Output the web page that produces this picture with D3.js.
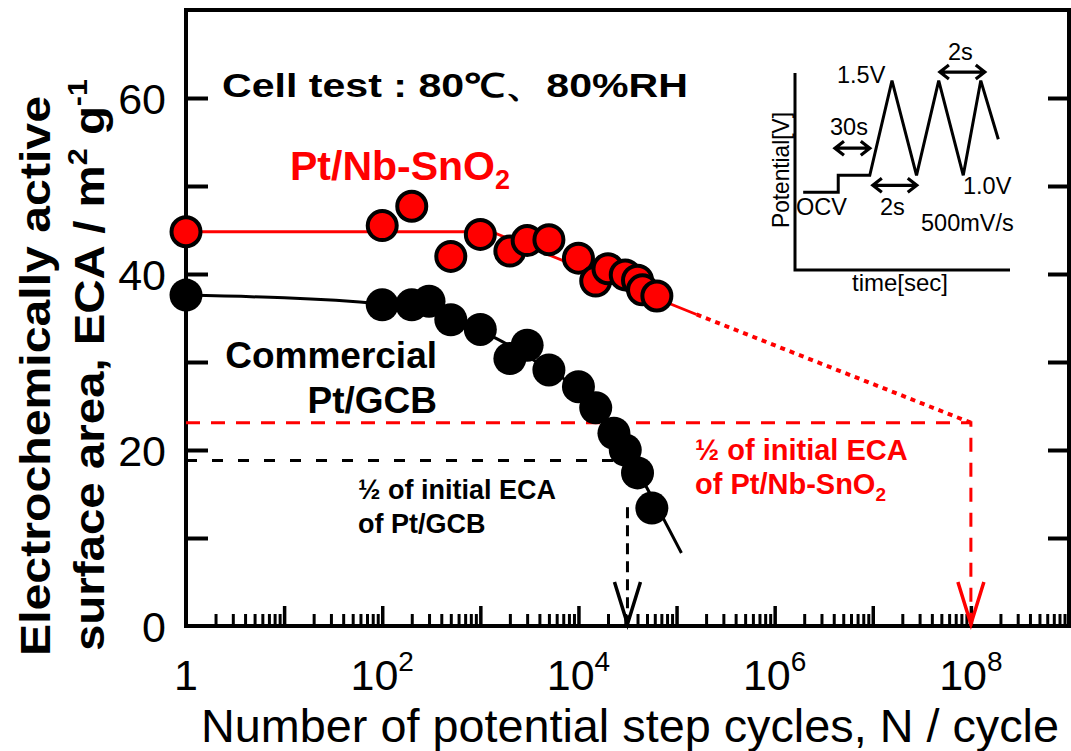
<!DOCTYPE html>
<html>
<head>
<meta charset="utf-8">
<script src="https://cdn.jsdelivr.net/npm/d3@7"></script>
<style>
  body { margin: 0; background: #fff; }
  svg { display: block; }
  text { font-family: "Liberation Sans", Arial, sans-serif; }
</style>
</head>
<body>
<div id="chart"></div>
<script>
// Pt/Nb-SnO2 measured points
var nbCycles = [1, 100, 200, 500, 1000, 2000, 3000, 5000, 10000, 15000, 20000, 30000, 40000, 45000, 63000];
var nbECA = [44.8, 45.5, 47.7, 42.0, 44.5, 42.6, 43.8, 43.9, 41.8, 39.2, 40.6, 39.9, 39.3, 38.2, 37.5];

// commercial Pt/GCB measured points
var gcbCycles = [1, 100, 200, 300, 500, 1000, 2000, 3000, 5000, 10000, 15000, 23000, 30000, 40000, 56000];
var gcbECA = [37.6, 36.5, 36.5, 36.9, 34.8, 33.7, 30.4, 31.9, 29.1, 27.2, 24.8, 21.9, 20.0, 17.4, 13.4];

// fitted trend lines
var nbFitCycles = [1, 1300, 160000];
var nbFitECA = [44.8, 44.8, 35.4];
var nbExtCycles = [160000, 1e8];
var nbExtECA = [35.4, 23.1];
var gcbFitCycles = [1, 100, 500, 1500, 4000, 10000, 20000, 40000, 63000, 112000];
var gcbFitECA = [37.6, 36.6, 35.0, 32.6, 29.8, 26.8, 22.8, 17.6, 13.6, 8.3];

// half of initial ECA markers
var halfNb = {cycles: 1e8, eca: 23.1};
var halfGcb = {cycles: 31600, eca: 18.8, from: 13.5};

// axis ticks
var yLabelTicks = [0, 20, 40, 60];
var yTicks = [10, 20, 30, 40, 50, 60];
var xLabelExps = [0, 2, 4, 6, 8];

// inset waveform (schematic time units, volts)
var waveT = [0, 1.5, 1.5, 2.85, 3.8, 4.85, 5.8, 6.85, 7.6, 8.35];
var waveV = [0.91, 0.91, 1.0, 1.0, 1.5, 1.0, 1.5, 1.0, 1.5, 1.19];

var W = 1071, H = 751;
var red = "#ff0000";

var svg = d3.select("#chart").append("svg")
    .attr("width", W)
    .attr("height", H);

var x = d3.scaleLog().domain([1, 1e9]).range([186, 1069]);
var y = d3.scaleLinear().domain([0, 70]).range([626, 10]);

//minor and major x ticks, pointing up into the plot
var xMinor = [], xMajor = [];
for (var d = 0; d < 9; d++) {
  for (var k = 2; k <= 9; k++) xMinor.push(k * Math.pow(10, d));
  xMajor.push(Math.pow(10, d + 1));
}

svg.append("g")
    .attr("transform", "translate(0," + y(0) + ")")
    .call(d3.axisBottom(x).tickValues(xMinor).tickSize(-12).tickFormat(""))
    .call(function (g) { g.select(".domain").remove(); g.selectAll("line").attr("stroke-width", 3); });

svg.append("g")
    .attr("transform", "translate(0," + y(0) + ")")
    .call(d3.axisBottom(x).tickValues(xMajor).tickSize(-20).tickFormat(""))
    .call(function (g) { g.select(".domain").remove(); g.selectAll("line").attr("stroke-width", 3.5); });

// y ticks on both sides
svg.append("g")
    .attr("transform", "translate(" + x(1) + ",0)")
    .call(d3.axisLeft(y).tickValues(yTicks).tickSize(-22).tickFormat(""))
    .call(function (g) { g.select(".domain").remove(); g.selectAll("line").attr("stroke-width", 4); });

svg.append("g")
    .attr("transform", "translate(" + x(1e9) + ",0)")
    .call(d3.axisRight(y).tickValues(yTicks).tickSize(-21).tickFormat(""))
    .call(function (g) { g.select(".domain").remove(); g.selectAll("line").attr("stroke-width", 4); });

// y tick labels
svg.append("g")
    .attr("transform", "translate(" + x(1) + ",0)")
    .call(d3.axisLeft(y).tickValues(yLabelTicks).tickSize(0).tickPadding(20))
    .call(function (g) {
      g.select(".domain").remove();
      g.selectAll("text")
        .attr("font-family", "'Liberation Sans', Arial, sans-serif")
        .attr("font-size", 43)
        .attr("fill", "#000")
        .attr("dy", "0.36em");
    });

// x tick labels 1, 10^2 ...
var xl = svg.append("g").selectAll("text")
    .data(xLabelExps)
    .enter()
    .append("text")
    .attr("x", function (e) { return x(Math.pow(10, e)); })
    .attr("y", 690)
    .attr("text-anchor", "middle")
    .attr("font-size", 43);
xl.each(function (e) {
  var t = d3.select(this);
  if (e === 0) { t.text("1"); return; }
  t.append("tspan").text("10");
  t.append("tspan").attr("dy", -19).attr("font-size", 28).text(e);
});

// frame
svg.append("rect")
    .attr("x", x(1)).attr("y", y(70))
    .attr("width", x(1e9) - x(1)).attr("height", y(0) - y(70))
    .attr("fill", "none").attr("stroke", "#000").attr("stroke-width", 4);

// axis titles
svg.append("text")
    .attr("x", 630).attr("y", 742)
    .attr("text-anchor", "middle")
    .attr("font-size", 46)
    .attr("textLength", 858).attr("lengthAdjust", "spacingAndGlyphs")
    .text("Number of potential step cycles, N / cycle");

svg.append("text")
    .attr("transform", "translate(50,376) rotate(-90)")
    .attr("text-anchor", "middle")
    .attr("font-size", 42).attr("font-weight", "bold")
    .attr("textLength", 560).attr("lengthAdjust", "spacingAndGlyphs")
    .text("Electrochemically active");

var yt2 = svg.append("text")
    .attr("transform", "translate(104,365) rotate(-90)")
    .attr("text-anchor", "middle")
    .attr("font-size", 42).attr("font-weight", "bold")
    .attr("textLength", 572).attr("lengthAdjust", "spacingAndGlyphs");
yt2.append("tspan").text("surface area, ECA / m");
yt2.append("tspan").attr("dy", -17).attr("font-size", 27).text("2");
yt2.append("tspan").attr("dy", 17).text(" g");
yt2.append("tspan").attr("dy", -17).attr("font-size", 27).text("-1");

// half ECA guide lines
svg.append("path")
    .attr("d", d3.line()([[x(1), y(halfNb.eca)], [x(halfNb.cycles), y(halfNb.eca)], [x(halfNb.cycles), y(0)]]))
    .attr("fill", "none").attr("stroke", red).attr("stroke-width", 3)
    .attr("stroke-dasharray", "14,11");

svg.append("path")
    .attr("d", d3.line()([[x(1), y(halfGcb.eca)], [x(halfGcb.cycles), y(halfGcb.eca)]]))
    .attr("fill", "none").attr("stroke", "#000").attr("stroke-width", 3)
    .attr("stroke-dasharray", "11,15");

svg.append("path")
    .attr("d", d3.line()([[x(halfGcb.cycles), y(halfGcb.from)], [x(halfGcb.cycles), y(0)]]))
    .attr("fill", "none").attr("stroke", "#000").attr("stroke-width", 3)
    .attr("stroke-dasharray", "11,7");

// open V arrowheads on the x axis
function vHead(cx, color) {
  svg.append("path")
      .attr("d", d3.line()([[cx - 13, y(0) - 44], [cx, y(0) - 2], [cx + 13, y(0) - 44]]))
      .attr("fill", "none").attr("stroke", color).attr("stroke-width", 3.5);
}
vHead(x(halfGcb.cycles), "#000");
vHead(x(halfNb.cycles), red);

// fit lines
var lineGen = d3.line()
    .x(function (p) { return x(p[0]); })
    .y(function (p) { return y(p[1]); });

svg.append("path")
    .attr("d", lineGen(d3.zip(nbFitCycles, nbFitECA)))
    .attr("fill", "none").attr("stroke", red).attr("stroke-width", 2.8);

svg.append("path")
    .attr("d", lineGen(d3.zip(nbExtCycles, nbExtECA)))
    .attr("fill", "none").attr("stroke", red).attr("stroke-width", 4)
    .attr("stroke-dasharray", "5,5");

svg.append("path")
    .attr("d", lineGen.curve(d3.curveMonotoneX)(d3.zip(gcbFitCycles, gcbFitECA)))
    .attr("fill", "none").attr("stroke", "#000").attr("stroke-width", 3);

// data points
svg.append("g").selectAll("circle")
    .data(d3.zip(gcbCycles, gcbECA))
    .enter().append("circle")
    .attr("cx", function (p) { return x(p[0]); })
    .attr("cy", function (p) { return y(p[1]); })
    .attr("r", 16.5)
    .attr("fill", "#000");

svg.append("g").selectAll("circle")
    .data(d3.zip(nbCycles, nbECA))
    .enter().append("circle")
    .attr("cx", function (p) { return x(p[0]); })
    .attr("cy", function (p) { return y(p[1]); })
    .attr("r", 14.5)
    .attr("fill", red)
    .attr("stroke", "#000").attr("stroke-width", 4);

// annotations
svg.append("text")
    .attr("x", 222).attr("y", 97)
    .attr("font-family", "'Noto Sans CJK JP', 'Noto Sans', sans-serif")
    .attr("font-size", 33).attr("font-weight", "bold")
    .attr("textLength", 466).attr("lengthAdjust", "spacingAndGlyphs")
    .text("Cell test : 80℃、80%RH");

var nbLabel = svg.append("text")
    .attr("x", 290).attr("y", 180)
    .attr("font-size", 41).attr("font-weight", "bold").attr("fill", red);
nbLabel.append("tspan").text("Pt/Nb-SnO");
nbLabel.append("tspan").attr("dy", 9).attr("font-size", 27).text("2");

svg.append("text")
    .attr("x", 437).attr("y", 368)
    .attr("text-anchor", "end")
    .attr("font-size", 37).attr("font-weight", "bold")
    .text("Commercial");
svg.append("text")
    .attr("x", 437).attr("y", 413)
    .attr("text-anchor", "end")
    .attr("font-size", 37).attr("font-weight", "bold")
    .text("Pt/GCB");

svg.append("text")
    .attr("x", 358).attr("y", 499)
    .attr("font-size", 27).attr("font-weight", "bold")
    .text("½ of initial ECA");
svg.append("text")
    .attr("x", 358).attr("y", 533)
    .attr("font-size", 27).attr("font-weight", "bold")
    .text("of Pt/GCB");

svg.append("text")
    .attr("x", 695).attr("y", 460)
    .attr("font-size", 29).attr("font-weight", "bold").attr("fill", red)
    .text("½ of initial ECA");
var nbHalf = svg.append("text")
    .attr("x", 695).attr("y", 494)
    .attr("font-size", 29).attr("font-weight", "bold").attr("fill", red);
nbHalf.append("tspan").text("of Pt/Nb-SnO");
nbHalf.append("tspan").attr("dy", 7).attr("font-size", 19).text("2");

// inset: potential step waveform
var ix = d3.scaleLinear().domain([-0.35, 8.85]).range([795, 1010]);
var iy = d3.scaleLinear().domain([0.5, 1.54]).range([270, 73]);
var inset = svg.append("g");

inset.append("path")
    .attr("d", d3.line()([[ix(-0.35), iy(1.54)], [ix(-0.35), iy(0.5)], [ix(8.85), iy(0.5)]]))
    .attr("fill", "none").attr("stroke", "#000").attr("stroke-width", 3);

inset.append("path")
    .attr("d", d3.line().x(function (p) { return ix(p[0]); }).y(function (p) { return iy(p[1]); })(d3.zip(waveT, waveV)))
    .attr("fill", "none").attr("stroke", "#000").attr("stroke-width", 3)
    .attr("stroke-linejoin", "miter");

function dblArrow(t0, t1, v) {
  var a = ix(t0), b = ix(t1), yy = iy(v);
  inset.append("path")
      .attr("d", "M" + a + "," + yy + "H" + b +
                 "M" + (a + 9) + "," + (yy - 7) + "L" + a + "," + yy + "L" + (a + 9) + "," + (yy + 7) +
                 "M" + (b - 9) + "," + (yy - 7) + "L" + b + "," + yy + "L" + (b - 9) + "," + (yy + 7))
      .attr("fill", "none").attr("stroke", "#000").attr("stroke-width", 3.2);
}
dblArrow(1.36, 2.85, 1.143);
dblArrow(2.98, 4.86, 0.947);
dblArrow(5.85, 7.77, 1.545);

var insetLabels = [
  {t: "1.5V", x: 837, y: 83},
  {t: "30s", x: 830, y: 135},
  {t: "OCV", x: 796, y: 215},
  {t: "2s", x: 880, y: 215},
  {t: "1.0V", x: 963, y: 194},
  {t: "500mV/s", x: 921, y: 231},
  {t: "2s", x: 948, y: 60}
];
inset.selectAll("text.lab")
    .data(insetLabels)
    .enter().append("text")
    .attr("class", "lab")
    .attr("x", function (d) { return d.x; })
    .attr("y", function (d) { return d.y; })
    .attr("font-size", 23.5)
    .text(function (d) { return d.t; });

inset.append("text")
    .attr("x", 900).attr("y", 291)
    .attr("text-anchor", "middle")
    .attr("font-size", 24)
    .text("time[sec]");

inset.append("text")
    .attr("transform", "translate(789,170) rotate(-90)")
    .attr("text-anchor", "middle")
    .attr("font-size", 24)
    .attr("textLength", 116).attr("lengthAdjust", "spacingAndGlyphs")
    .text("Potential[V]");
</script>
</body>
</html>
